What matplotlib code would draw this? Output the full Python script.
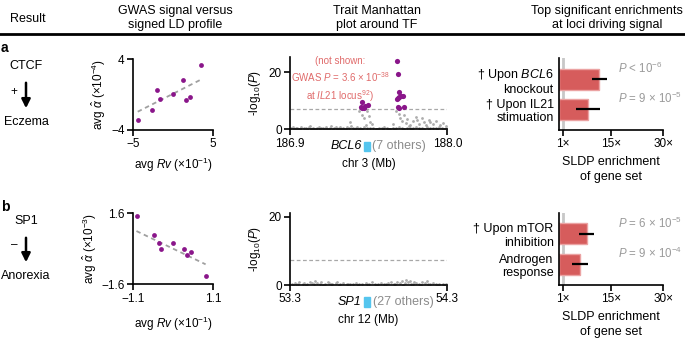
import numpy as np
import matplotlib
matplotlib.use("Agg")
from matplotlib import pyplot as plt, transforms
from matplotlib.patches import Rectangle

plt.rcParams['font.family'] = ['Liberation Sans', 'DejaVu Sans']
plt.rcParams['font.size'] = 8.5
plt.rcParams['mathtext.fontset'] = 'custom'
plt.rcParams['mathtext.rm'] = 'Liberation Sans'
plt.rcParams['mathtext.it'] = 'Liberation Sans:italic'
plt.rcParams['mathtext.bf'] = 'Liberation Sans:bold'

# ---- panel a data (CTCF -> Eczema)
rv_a = [-4.41, -2.59, -1.96, -1.59, 0.0, 1.25, 1.59, 2.09, 3.5]
alpha_a = [-2.87, -1.78, 0.51, -0.51, 0.09, 1.6, -0.62, -0.25, 3.36]
fit_a_x = [-4.41, 3.38]
fit_a_y = [-1.94, 1.63]

hit_a_pos = [187.406, 187.394, 187.415, 187.427, 187.443, 187.403,
             187.650, 187.653, 187.660, 187.655, 187.664, 187.676, 187.692,
             187.650, 187.653, 187.664, 187.700]
hit_a_p = [9.6, 7.9, 7.6, 8.2, 8.4, 7.4,
           24.0, 19.6, 13.2, 11.1, 11.4, 11.8, 11.8,
           10.6, 7.7, 7.4, 7.7]

bg_a_pos = [186.91, 186.92, 186.94, 186.95, 186.97, 186.98, 187.00, 187.01, 187.03, 187.04,
            187.06, 187.07, 187.09, 187.10, 187.12, 187.13, 187.15, 187.16, 187.18, 187.19,
            187.21, 187.22, 187.24, 187.25, 187.27, 187.28, 187.30, 187.31, 187.33, 187.34,
            187.36, 187.37, 187.39, 187.40, 187.42, 187.44, 187.46, 187.48, 187.50, 187.52,
            187.54, 187.56, 187.58, 187.60, 187.62, 187.64, 187.66, 187.68, 187.70, 187.72,
            187.74, 187.76, 187.78, 187.80, 187.82, 187.84, 187.86, 187.88, 187.90, 187.92,
            187.94, 187.96, 187.98, 187.99,
            186.93, 186.96, 187.02, 187.05, 187.08, 187.11, 187.14, 187.17, 187.20, 187.23,
            187.26, 187.29, 187.35, 187.38, 187.51, 187.55, 187.59, 187.63, 187.69, 187.75,
            187.81, 187.87, 187.93, 187.97,
            187.32, 187.38, 187.40, 187.42, 187.44, 187.45, 187.46, 187.47, 187.43,
            187.64, 187.66, 187.67, 187.68, 187.70, 187.71, 187.72, 187.74, 187.76, 187.78,
            187.79, 187.80, 187.82, 187.84, 187.85, 187.87, 187.88, 187.90, 187.92, 187.95,
            187.97, 187.99, 187.62, 187.73]
bg_a_p = [0.4, 0.8, 0.3, 0.6, 0.2, 0.9, 0.5, 0.3, 0.7, 1.0,
          0.4, 0.2, 0.6, 0.9, 0.3, 0.5, 0.8, 0.2, 0.6, 1.1,
          0.4, 0.7, 0.3, 0.9, 0.5, 0.2, 0.8, 0.4, 1.3, 0.6,
          0.3, 0.9, 0.5, 0.2, 0.7, 0.4, 0.3, 0.6, 0.2, 0.5,
          0.3, 0.7, 0.4, 0.2, 0.6, 0.3, 0.8, 0.4, 0.2, 0.6,
          0.3, 0.5, 0.9, 0.3, 0.6, 0.2, 0.7, 0.4, 0.5, 0.3,
          0.8, 0.4, 0.2, 0.6,
          0.15, 0.1, 0.2, 0.15, 0.1, 0.2, 0.1, 0.15, 0.2, 0.1,
          0.15, 0.1, 0.2, 0.1, 0.15, 0.1, 0.2, 0.1, 0.15, 0.2,
          0.1, 0.15, 0.1, 0.2,
          2.7, 6.3, 5.2, 3.8, 6.6, 4.6, 2.5, 1.8, 1.6,
          6.6, 5.4, 4.1, 3.0, 5.0, 2.2, 3.6, 1.5, 2.8, 4.4,
          3.4, 2.0, 4.0, 2.6, 1.4, 3.2, 2.4, 1.7, 2.9, 1.6,
          2.3, 1.1, 1.9, 1.2]

sets_a = ['† Upon $\\it{BCL6}$\nknockout', '† Upon IL21\nstimuation']
enrich_a = [11.5, 8.3]
err_a = [2.15, 3.4]
pvals_a = ['$P$ < 10$^{-6}$', '$P$ = 9 × 10$^{-5}$']

# ---- panel b data (SP1 -> Anorexia)
rv_b = [-0.977, -0.515, -0.384, -0.32, 0.006, 0.312, 0.387, 0.487, 0.897]
alpha_b = [1.49, 0.62, 0.275, 0.005, 0.26, -0.01, -0.29, -0.14, -1.21]
fit_b_x = [-1.005, 0.897]
fit_b_y = [0.80, -0.70]

bg_b_pos = [53.31, 53.33, 53.34, 53.36, 53.38, 53.39, 53.41, 53.43, 53.44, 53.46,
            53.47, 53.49, 53.50, 53.52, 53.54, 53.55, 53.57, 53.59, 53.60, 53.62,
            53.64, 53.66, 53.68, 53.70, 53.72, 53.74, 53.76, 53.78, 53.80, 53.82,
            53.84, 53.86, 53.88, 53.90, 53.92, 53.94, 53.96, 53.98, 54.00, 54.01,
            54.03, 54.04, 54.05, 54.06, 54.07, 54.09, 54.10, 54.12, 54.14, 54.16,
            54.17, 54.19, 54.21, 54.23, 54.25, 54.27, 54.29,
            53.32, 53.35, 53.40, 53.45, 53.51, 53.56, 53.61, 53.67, 53.73, 53.79,
            53.85, 53.91, 53.97, 54.02, 54.08, 54.13, 54.18, 54.24, 54.28]
bg_b_p = [0.3, 0.6, 0.2, 0.8, 0.4, 0.7, 0.3, 0.9, 0.5, 1.1,
          0.6, 0.3, 0.8, 0.4, 1.0, 0.5, 0.2, 0.6, 0.9, 0.3,
          0.5, 0.2, 0.4, 0.3, 0.6, 0.2, 0.4, 0.7, 0.3, 0.9,
          0.4, 0.2, 0.5, 0.3, 0.6, 0.8, 0.4, 1.0, 0.6, 1.2,
          0.5, 1.5, 0.8, 1.3, 0.4, 1.0, 0.6, 0.3, 0.9, 0.5,
          1.1, 0.3, 0.6, 0.2, 0.4, 0.3, 0.2,
          0.1, 0.15, 0.1, 0.2, 0.1, 0.15, 0.1, 0.2, 0.1, 0.15,
          0.1, 0.2, 0.15, 0.1, 0.2, 0.1, 0.15, 0.1, 0.1]

sets_b = ['† Upon mTOR\ninhibition', 'Androgen\nresponse']
enrich_b = [7.9, 6.05]
err_b = [2.15, 2.35]
pvals_b = ['$P$ = 6 × 10$^{-5}$', '$P$ = 9 × 10$^{-4}$']

purple = '#8a168a'
red = '#d65c5c'
cyan = '#55c5ee'
W, H = 685.0, 340.0


def px_axes(x0, y0, x1, y1):
    return fig.add_axes([x0 / W, 1 - y1 / H, (x1 - x0) / W, (y1 - y0) / H])


def style(ax):
    for s in ['top', 'right']:
        ax.spines[s].set_visible(False)
    for s in ['left', 'bottom']:
        ax.spines[s].set_linewidth(1.2)
    ax.tick_params(width=1.2, length=4, direction='out', pad=2)


fig = plt.figure(figsize=(6.85, 3.4), dpi=100)

# free layer in pixel coordinates
base = fig.add_axes([0, 0, 1, 1])
base.set_xlim(0, W)
base.set_ylim(H, 0)
base.axis('off')
base.plot([0, W], [33.5, 33.5], color='k', lw=2)
base.text(28, 19, 'Result', ha='center', va='center', fontsize=9)
base.text(175, 18, 'GWAS signal versus\nsigned LD profile', ha='center', va='center', fontsize=9)
base.text(377, 18, 'Trait Manhattan\nplot around TF', ha='center', va='center', fontsize=9)
base.text(607, 18, 'Top significant enrichments\nat loci driving signal', ha='center', va='center', fontsize=9)

# label, tf, arrow top, arrow tip, sign, trait (pixel rows)
for lab, rows, tf, trait, sign in [('a', (48, 66, 80, 111, 92, 122), 'CTCF', 'Eczema', '+'),
                                   ('b', (207, 221, 235, 265, 245, 276), 'SP1', 'Anorexia', '–')]:
    base.text(1, rows[0], lab, fontweight='bold', fontsize=10, va='center')
    base.text(26, rows[1], tf, ha='center', va='center', fontsize=9)
    base.annotate('', xy=(26, rows[3]), xytext=(26, rows[2]),
                  arrowprops=dict(arrowstyle='-|>', lw=1.8, color='k', mutation_scale=13))
    base.text(14, rows[4], sign, ha='center', va='center', fontsize=8.5)
    base.text(26, rows[5], trait, ha='center', va='center', fontsize=9)

# ---- scatter plots
for (y0, y1), rv, al, fx, fy, lim_x, lim_y, ylab, lp in [
        ((59, 130), rv_a, alpha_a, fit_a_x, fit_a_y, 5, 4, 'avg $\\hat{\\alpha}$ (×10$^{-4}$)', 4),
        ((213.3, 284.3), rv_b, alpha_b, fit_b_x, fit_b_y, 1.1, 1.6, 'avg $\\hat{\\alpha}$ (×10$^{-3}$)', 7)]:
    ax = px_axes(133, y0, 213, y1)
    style(ax)
    ax.plot(fx, fy, color='#a0a0a0', lw=1.3, ls=(0, (2.5, 2)))
    ax.scatter(rv, al, s=12, color=purple, zorder=3, linewidths=0)
    ax.set_xlim(-lim_x, lim_x)
    ax.set_ylim(-lim_y, lim_y)
    ax.set_xticks([-lim_x, lim_x])
    ax.set_xticklabels(['−%g' % lim_x, '%g' % lim_x])
    ax.set_yticks([-lim_y, lim_y])
    ax.set_yticklabels(['−%g' % lim_y, '%g' % lim_y])
    ax.set_xlabel('avg $Rv$ (×10$^{-1}$)', labelpad=lp)
    ax.set_ylabel(ylab, labelpad=2)

# ---- Manhattan plots
for (y0, y1), bpos, bp, hpos, hp, xl, ytop, gene, gpos, others, chrlab in [
        ((57.3, 129.3), bg_a_pos, bg_a_p, hit_a_pos, hit_a_p, (186.9, 188.0), 25.3,
         'BCL6', 187.44, '(7 others)', 'chr 3 (Mb)'),
        ((212.7, 285), bg_b_pos, bg_b_p, [], [], (53.3, 54.3), 21.2,
         'SP1', 53.79, '(27 others)', 'chr 12 (Mb)')]:
    ax = px_axes(290, y0, 447.3, y1)
    style(ax)
    ax.axhline(7.3, color='#a8a8a8', lw=0.9, ls=(0, (3, 2)))
    ax.scatter(bpos, bp, s=4, color='#adadad', linewidths=0, zorder=2)
    if hpos:
        ax.scatter(hpos, hp, s=14, color=purple, linewidths=0, zorder=3)
    ax.set_xlim(*xl)
    ax.set_ylim(0, ytop)
    ax.set_xticks(list(xl))
    ax.set_xticklabels(['%.1f' % v for v in xl])
    ax.set_yticks([0, 20])
    ax.set_ylabel('-log$_{10}$($P$)', labelpad=4)
    ax.set_xlabel(chrlab, labelpad=6)
    bl = transforms.blended_transform_factory(ax.transData, ax.transAxes)
    gw = 0.04
    ax.add_patch(Rectangle((gpos - gw / 2, -0.30), gw, 0.13, transform=bl,
                           color=cyan, clip_on=False))
    ax.text(gpos - gw / 2 - 0.015, -0.235, gene, transform=bl, ha='right', va='center',
            style='italic', fontsize=9)
    ax.text(gpos + gw / 2 + 0.015, -0.235, others, transform=bl, ha='left', va='center',
            color='#8c8c8c', fontsize=9)
    if gene == 'BCL6':
        ax.text(187.25, 17.3, '(not shown:\nGWAS $P$ = 3.6 × 10$^{-38}$\nat $\\it{IL21}$ locus$^{92}$)',
                ha='center', va='center', color='#e06a6a', fontsize=7, linespacing=1.35)

# ---- enrichment bars
for (y0, y1), sets, enr, err, pv in [((58.3, 130), sets_a, enrich_a, err_a, pvals_a),
                                     ((212.7, 285), sets_b, enrich_b, err_b, pvals_b)]:
    ax = px_axes(559.3, y0, 663.3, y1)
    style(ax)
    ypos = [1, 0]
    ax.axvline(1, color='#c8c8c8', lw=2, zorder=1)
    ax.barh(ypos, enr, height=0.7, left=0, color=red, edgecolor='#eba3a3', lw=1, zorder=2)
    ax.errorbar(enr, ypos, xerr=err, fmt='none', ecolor='k', elinewidth=1.6, capsize=0, zorder=3)
    for yy, t in zip(ypos, pv):
        ax.text(17.0, yy + 0.35, t, ha='left', va='center', color='#9a9a9a', fontsize=8.3, clip_on=False)
    ax.set_xlim(0, 30)
    ax.set_ylim(-0.68, 1.69)
    ax.set_xticks([1, 15, 30])
    ax.set_xticklabels(['1×', '15×', '30×'])
    ax.set_yticks(ypos)
    ax.set_yticklabels(sets, fontsize=9, linespacing=1.15)
    ax.tick_params(axis='y', length=0, pad=4)
    ax.set_xlabel('SLDP enrichment\nof gene set', labelpad=4, fontsize=9, linespacing=1.3)

fig.savefig('out.png', dpi=100)
